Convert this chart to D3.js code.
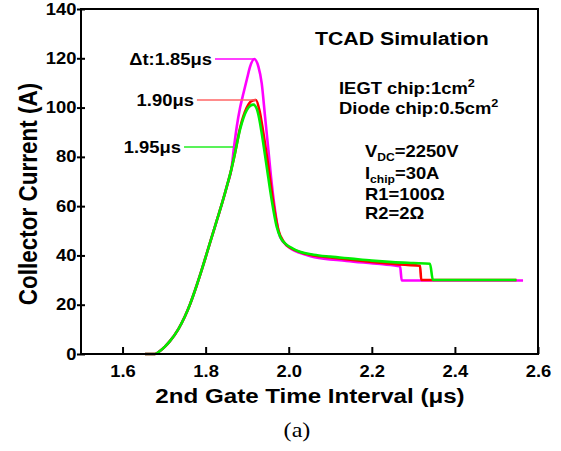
<!DOCTYPE html>
<html><head><meta charset="utf-8">
<script src="https://cdn.jsdelivr.net/npm/d3@7"></script>
<style>
html,body{margin:0;padding:0;background:#fff;}
svg text{font-family:"Liberation Sans",Arial,sans-serif;font-weight:bold;fill:#000;}
</style></head>
<body>
<svg id="c" width="561" height="451"></svg>
<script>
// ---- data ----
const xTicks = [1.6, 1.8, 2.0, 2.2, 2.4, 2.6];
const yTicks = [0, 20, 40, 60, 80, 100, 120, 140];

const tMagenta = [1.654,1.678,1.690,1.702,1.714,1.734,1.750,1.762,1.778,1.790,1.802,1.815,1.828,1.841,1.852,1.862,1.868,1.875,1.883,1.891,1.900,1.907,1.917,1.927,1.935,1.943,1.951,1.959,1.967,1.979,1.999,2.043,2.062,2.139,2.220,2.268,2.272,2.564];
const vMagenta = [0,0,1.2,3.0,5.2,10.0,15.2,20.0,27.6,33.8,40.4,47.6,54.8,62.0,68.6,75.0,83.5,92.3,100,105.8,112,116.6,119.7,116.6,109.8,96.3,82.8,69.3,58.4,47.6,43.5,40.2,39.3,37.8,36.5,35.6,29.8,29.8];

const tRed = [1.654,1.678,1.690,1.702,1.714,1.734,1.750,1.762,1.778,1.790,1.802,1.815,1.828,1.841,1.852,1.862,1.871,1.883,1.899,1.910,1.921,1.930,1.939,1.951,1.963,1.975,1.988,2.005,2.030,2.060,2.100,2.200,2.280,2.316,2.319,2.548];
const vRed = [0,0,1.2,3.0,5.2,10.0,15.2,20.0,27.6,33.8,40.4,47.6,54.8,62.0,68.6,75.0,81.8,91.8,100,102.6,103.1,98.5,89.6,76,61.2,50.3,45.5,43,41.2,40,39.2,37.4,36.2,35.8,30,30];

const tGreen = [1.654,1.678,1.690,1.702,1.714,1.734,1.750,1.762,1.778,1.790,1.802,1.815,1.828,1.841,1.852,1.862,1.871,1.883,1.899,1.908,1.915,1.923,1.929,1.935,1.947,1.959,1.971,1.981,1.991,2.010,2.027,2.060,2.100,2.150,2.200,2.250,2.300,2.340,2.347,2.548];
const vGreen = [0,0,1.2,3.0,5.2,10.0,15.2,20.0,27.6,33.8,40.4,47.6,54.8,62.0,68.6,75.0,81.8,91.2,99,100.8,101.2,99.5,95.5,89.6,76,62.5,51.7,47,44.9,42.8,41.5,40.3,39.5,38.7,37.9,37.3,36.9,36.6,30,30];

const seriesLabels = ["\u0394t:1.85\u03bcs", "1.90\u03bcs", "1.95\u03bcs"];
const leaderValue = [119.7, 103.1, 84];
const leaderFrom = [1.8225, 1.779, 1.748];
const leaderTo = [1.916, 1.921, 1.866];

// ---- drawing ----
const svg = d3.select("#c");
const L = 81, R = 538, T = 9, B = 354;
const SX = 1.15; // horizontal text stretch of the original figure
const x = d3.scaleLinear().domain([1.5, 2.6]).range([L, R]);
const y = d3.scaleLinear().domain([0, 140]).range([B, T]);

function txt(px, py, size, anchor) {
  return svg.append("text")
    .attr("transform", `translate(${px},${py}) scale(${SX},1)`)
    .attr("text-anchor", anchor || "start")
    .attr("font-size", size);
}

const series = [
  {t: tMagenta, v: vMagenta, color: "#ff00ff", lead: "#ff00ff"},
  {t: tRed, v: vRed, color: "#ff0000", lead: "#ff6666"},
  {t: tGreen, v: vGreen, color: "#00ee00", lead: "#22ee22"}
];

const line = d3.line().x(d => x(d[0])).y(d => y(d[1])).curve(d3.curveMonotoneX);

series.forEach(s => {
  svg.append("path")
    .attr("d", line(s.t.map((t, i) => [t, s.v[i]])))
    .attr("fill", "none").attr("stroke", s.color).attr("stroke-width", 2.6)
    .attr("stroke-linejoin", "round");
});

// leaders + labels
series.forEach((s, i) => {
  svg.append("line")
    .attr("x1", x(leaderFrom[i])).attr("x2", x(leaderTo[i]))
    .attr("y1", y(leaderValue[i])).attr("y2", y(leaderValue[i]))
    .attr("stroke", s.lead).attr("stroke-width", 1.5);
  txt(x(leaderFrom[i]) - 3, y(leaderValue[i]) + 6, 16, "end").text(seriesLabels[i]);
});

// frame
svg.append("rect").attr("x", L).attr("y", T).attr("width", R - L).attr("height", B - T)
  .attr("fill", "none").attr("stroke", "#000").attr("stroke-width", 2);

// x axis
const xa = svg.append("g").attr("transform", `translate(0,${B})`)
  .call(d3.axisBottom(x).tickValues(xTicks).tickFormat(d3.format(".1f")).tickSize(-7).tickPadding(12));
xa.select(".domain").remove();
xa.selectAll("line").attr("stroke", "#000").attr("stroke-width", 2);
xa.selectAll("text").attr("font-size", 16).attr("font-family", "Liberation Sans, Arial, sans-serif")
  .attr("font-weight", "bold").attr("fill", "#000").attr("transform", `scale(${SX},1)`);

// y axis
const ya = svg.append("g").attr("transform", `translate(${L},0)`)
  .call(d3.axisLeft(y).tickValues(yTicks).tickSize(4).tickPadding(0));
ya.select(".domain").remove();
ya.selectAll("line").attr("stroke", "#000").attr("stroke-width", 2).attr("x2", 4).attr("x1", -4);
ya.selectAll("text").attr("font-size", 16).attr("font-family", "Liberation Sans, Arial, sans-serif")
  .attr("font-weight", "bold").attr("fill", "#000").attr("transform", `scale(${SX},1)`);

// axis titles
txt(310, 403, 21, "middle").text("2nd Gate Time Interval (\u03bcs)");
svg.append("text").attr("transform", `translate(37,194) rotate(-90) scale(1,${SX})`).attr("text-anchor", "middle")
  .attr("font-size", 22.5).text("Collector Current (A)");
txt(297, 437, 21, "middle").style("font-family", "Liberation Serif, Times New Roman, serif")
  .style("font-weight", "normal").text("(a)");

// annotations
txt(315, 45, 18.5).text("TCAD Simulation");
const t1 = txt(339, 94, 16);
t1.append("tspan").text("IEGT chip:1cm");
t1.append("tspan").attr("font-size", 11).attr("dy", -7).text("2");
const t2 = txt(339, 114, 16);
t2.append("tspan").text("Diode chip:0.5cm");
t2.append("tspan").attr("font-size", 11).attr("dy", -7).text("2");

const a1 = txt(365, 157, 16);
a1.append("tspan").text("V");
a1.append("tspan").attr("font-size", 10.5).attr("dy", 4).text("DC");
a1.append("tspan").attr("dy", -4).text("=2250V");
const a2 = txt(365, 179, 16);
a2.append("tspan").text("I");
a2.append("tspan").attr("font-size", 10.5).attr("dy", 4).text("chip");
a2.append("tspan").attr("dy", -4).text("=30A");
txt(365, 200, 16).text("R1=100\u03a9");
txt(365, 219, 16).text("R2=2\u03a9");
</script>
</body></html>
